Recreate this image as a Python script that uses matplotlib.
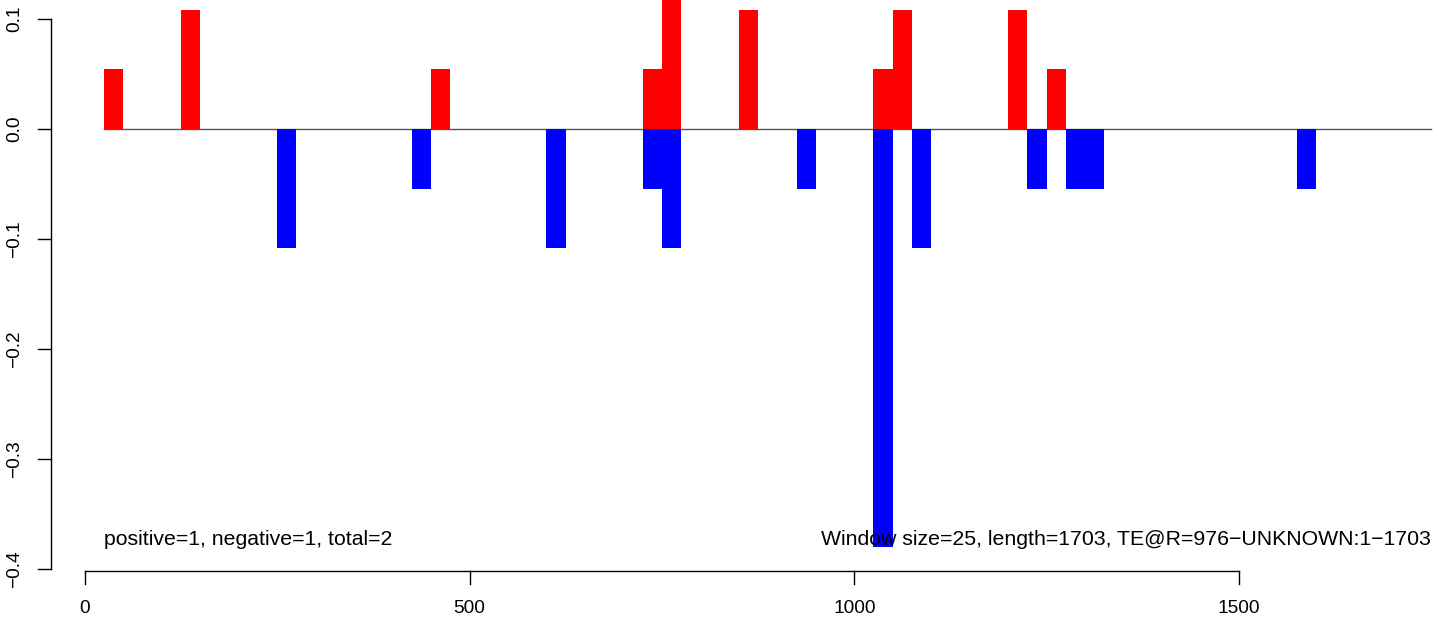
import matplotlib.pyplot as plt
import numpy as np

plt.rcParams['font.family'] = ['Liberation Sans', 'DejaVu Sans']

# window start positions (bp) and scores, window size 25
unit = 0.0543
pos_start = [25, 125, 450, 725, 750, 850, 1025, 1050, 1200, 1250]
pos_score = [1, 2, 1, 1, 3, 2, 1, 2, 2, 1]
neg_start = [250, 425, 600, 725, 750, 925, 1025, 1075, 1225, 1275, 1300, 1575]
neg_score = [-2, -1, -2, -1, -2, -1, -7, -2, -1, -1, -1, -1]
xticks = [0, 500, 1000, 1500]
yticks = [-0.4, -0.3, -0.2, -0.1, 0.0, 0.1]
win = 25
seq_len = 1703

W, H = 1444, 619
fig = plt.figure(figsize=(W / 100, H / 100), dpi=100)
ax = fig.add_axes([51 / W, (H - 570) / H, 1 - 51 / W, 570 / H])
ax.set_xlim(-44, 1766.5)
ax.set_ylim(-0.4009, 0.1173)
for s in ax.spines.values():
    s.set_visible(False)
ax.set_xticks([])
ax.set_yticks([])

ax.plot([win, 1750], [0, 0], color='#555555', lw=1.0, zorder=1)
ax.bar(pos_start, np.array(pos_score) * unit, width=win, align='edge',
       color='red', lw=0, zorder=2)
ax.bar(neg_start, np.array(neg_score) * unit, width=win, align='edge',
       color='blue', lw=0, zorder=2)

fs = 15.3
tfs = 13.8
ax.text(win, -0.3736, 'positive=1, negative=1, total=2', ha='left', va='center',
        fontsize=fs, zorder=3)
ax.text(1750, -0.3736, 'Window size=25, length=%d, TE@R=976\u2212UNKNOWN:1\u2212%d' % (seq_len, seq_len),
        ha='right', va='center', fontsize=fs, zorder=3)

# R-style axes
xb = -0.4009 - 1 / 1099
ax.plot([xticks[0], xticks[-1]], [xb, xb], color='black', lw=1, clip_on=False)
for t in xticks:
    ax.plot([t, t], [xb, xb - 13 / 1099], color='black', lw=1, clip_on=False)
    ax.text(t, xb - 37 / 1099, str(t), ha='center', va='center', fontsize=tfs)

x0 = -44
ax.plot([x0, x0], [yticks[0], yticks[-1]], color='black', lw=1, clip_on=False)
for t in yticks:
    ax.plot([x0, x0 - 13 / 0.7693], [t, t], color='black', lw=1, clip_on=False)
    lab = ('%.1f' % t).replace('-', '\u2212')
    ax.text(x0 - 36 / 0.7693, t, lab, ha='center', va='center', rotation=90,
            fontsize=tfs)

fig.savefig('out.png', dpi=100)
